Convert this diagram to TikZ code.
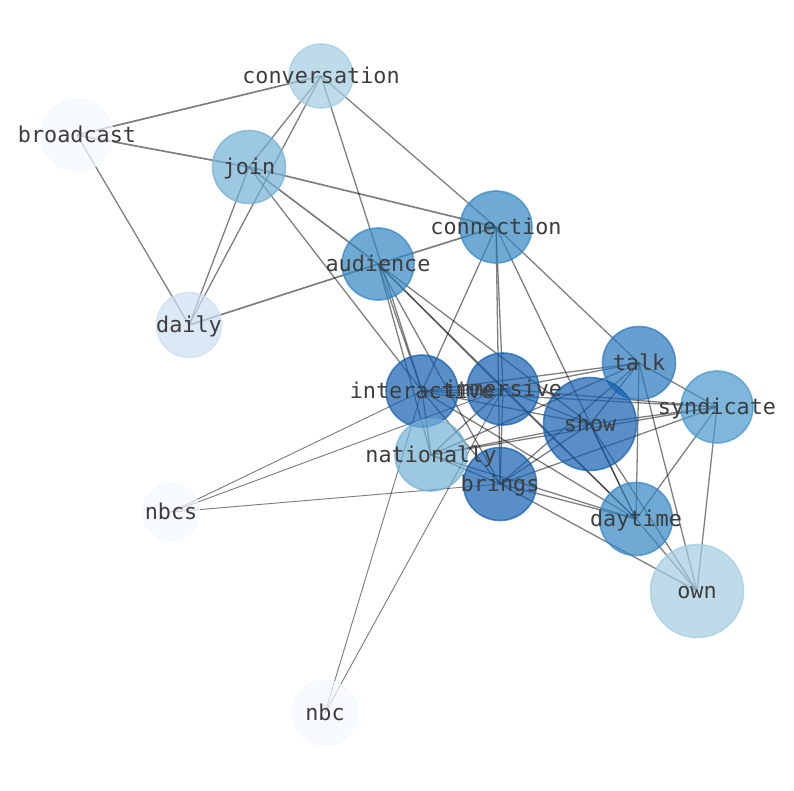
\documentclass[tikz,border=0pt]{standalone}
\usepackage{fontspec}
\setmonofont{DejaVu Sans Mono}
\usetikzlibrary{backgrounds}
\definecolor{cC}{RGB}{161,204,224}
\definecolor{cP}{RGB}{243,248,255}
\definecolor{cJ}{RGB}{115,176,213}
\definecolor{cM}{RGB}{50,134,195}
\definecolor{cD}{RGB}{204,222,241}
\definecolor{cT}{RGB}{39,119,188}
\definecolor{cS}{RGB}{71,152,204}
\definecolor{cX}{RGB}{19,95,174}
\tikzset{
  vtx/.style args={#1/#2}{circle, inner sep=0pt, minimum size=#1pt, fill=#2, draw=#2,
    fill opacity=0.7, draw opacity=0.7, line width=1.6pt},
  lbl/.style={anchor=base, inner sep=0pt, text=black!76,
    font=\ttfamily\fontsize{21.8}{24}\selectfont},
  ed/.style={draw=black, draw opacity=0.5, line width=1.3pt},
  edt/.style={draw=black, draw opacity=0.5, line width=1.7pt},
}
\begin{document}
\begin{tikzpicture}[x=1pt,y=-1pt]
\useasboundingbox (0,0) rectangle (794,790);
% vertices
\node[vtx=64/cC] (conversation) at (321,76) {};
\node[vtx=72/cP] (broadcast) at (77,135) {};
\node[vtx=73/cJ] (join) at (249,167) {};
\node[vtx=72/cM] (connection) at (496,227) {};
\node[vtx=72/cM] (audience) at (378,264) {};
\node[vtx=65/cD] (daily) at (189,325) {};
\node[vtx=73/cT] (talk) at (639,363) {};
\node[vtx=72/cS] (syndicate) at (717,407) {};
\node[vtx=72/cX] (interactive) at (422,391) {};
\node[vtx=72/cX] (immersive) at (503,389) {};
\node[vtx=93/cX] (show) at (590,424) {};
\node[vtx=72/cJ] (nationally) at (431,455) {};
\node[vtx=73/cX] (brings) at (500,484) {};
\node[vtx=57/cP] (nbcs) at (171,512) {};
\node[vtx=73/cM] (daytime) at (636,519) {};
\node[vtx=93/cC] (own) at (697,591) {};
\node[vtx=65/cP] (nbc) at (325,713) {};
% edges
\begin{scope}[on background layer]
\foreach \a/\b in {broadcast/conversation, broadcast/join, join/connection,
  daily/audience, audience/connection, join/audience}
  \draw[edt] (\a.center) -- (\b.center);
\foreach \a/\b in {broadcast/daily, conversation/join, conversation/daily,
  conversation/connection, conversation/interactive, join/daily, join/interactive,
  audience/interactive, audience/immersive, audience/brings, audience/show,
  audience/daytime, audience/nationally,
  connection/interactive, connection/immersive, connection/brings,
  connection/daytime, connection/talk,
  interactive/immersive, interactive/talk, interactive/syndicate, interactive/show,
  interactive/nationally, interactive/brings, interactive/daytime,
  immersive/talk, immersive/show, immersive/syndicate, immersive/nationally,
  immersive/brings, immersive/daytime,
  talk/show, talk/nationally, talk/brings, talk/daytime, talk/own, talk/syndicate,
  show/syndicate, show/nationally, show/brings, show/daytime, show/own,
  syndicate/nationally, syndicate/brings, syndicate/daytime, syndicate/own,
  nationally/brings, nationally/daytime,
  brings/daytime, brings/own, daytime/own}
  \draw[ed] (\a.center) -- (\b.center);
\foreach \a/\b in {nbcs/interactive, nbcs/immersive, nbcs/brings,
  nbc/interactive, nbc/immersive}
  \draw[ed, line width=0.95pt] (\a.center) -- (\b.center);
\end{scope}
% labels
\foreach \n in {conversation,broadcast,join,connection,audience,daily,talk,syndicate,
  interactive,immersive,show,nationally,brings,nbcs,daytime,own,nbc}
  \node[lbl] (l-\n) at ([yshift=-7.5pt]\n.center) {\n};
\end{tikzpicture}
\end{document}
